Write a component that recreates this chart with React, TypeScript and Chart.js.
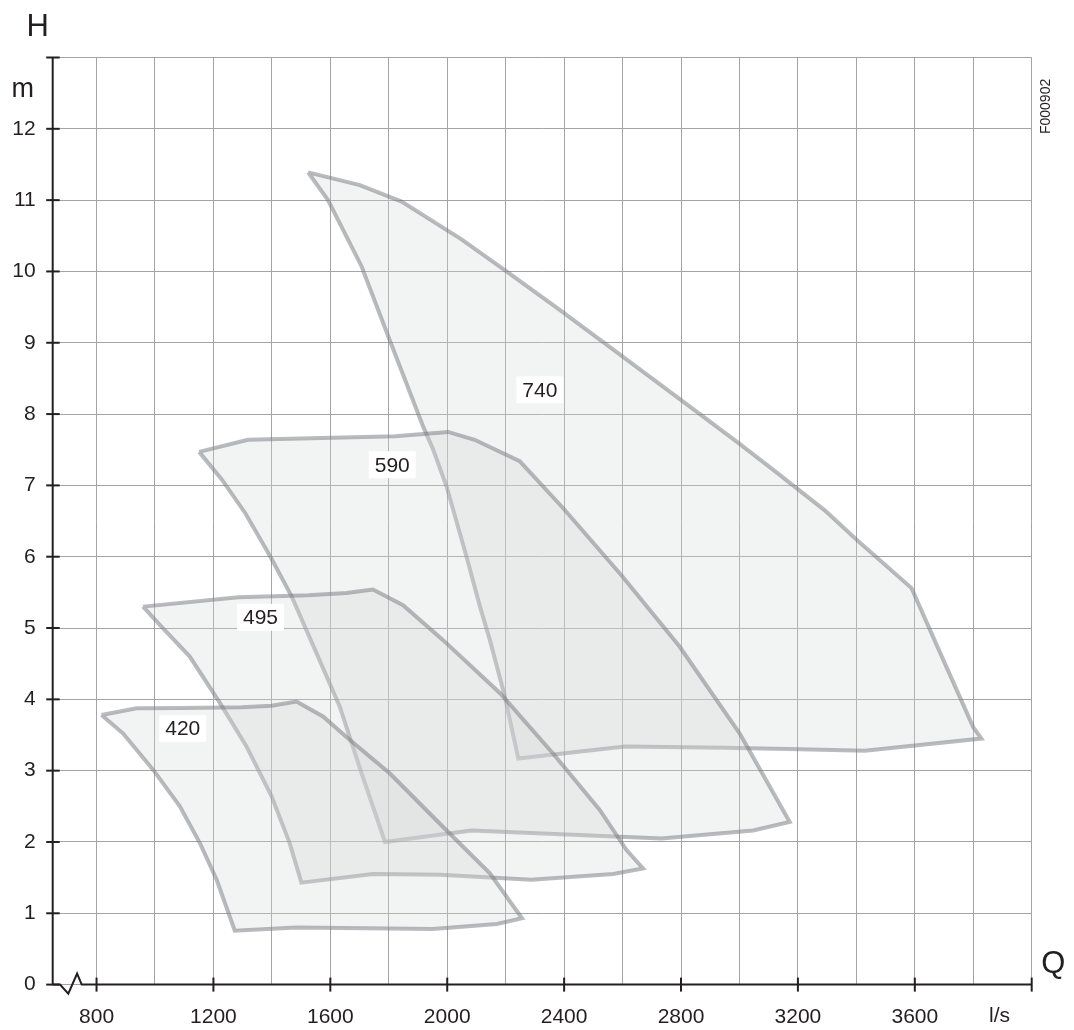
import React, { useEffect, useRef } from 'react';
import { Chart, registerables } from 'chart.js';

Chart.register(...registerables);

// ---- Data (Q in l/s, H in m) ----
const Q_420 = [817, 937, 1091, 1296, 1399, 1484, 1575, 1667, 1804, 1986, 2146, 2256, 2170, 1951, 1484, 1273, 1211, 1154, 1085, 994, 891, 817];
const H_420 = [3.78, 3.875, 3.88, 3.89, 3.91, 3.97, 3.76, 3.43, 2.96, 2.21, 1.56, 0.93, 0.85, 0.78, 0.8, 0.756, 1.47, 1.98, 2.5, 3.01, 3.52, 3.78];

const Q_495 = [959, 1285, 1524, 1655, 1746, 1849, 1986, 2180, 2362, 2522, 2613, 2670, 2568, 2288, 1975, 1747, 1501, 1461, 1399, 1313, 1222, 1119, 1022, 959];
const H_495 = [5.3, 5.43, 5.46, 5.49, 5.54, 5.32, 4.83, 4.09, 3.24, 2.45, 1.89, 1.63, 1.55, 1.47, 1.54, 1.55, 1.43, 1.98, 2.64, 3.34, 3.95, 4.6, 5.02, 5.3];

const Q_590 = [1151, 1318, 1534, 1821, 2003, 2094, 2248, 2397, 2596, 2795, 3001, 3172, 3047, 2733, 2083, 1787, 1707, 1632, 1548, 1468, 1395, 1309, 1229, 1151];
const H_590 = [7.47, 7.64, 7.66, 7.69, 7.75, 7.64, 7.34, 6.68, 5.74, 4.74, 3.52, 2.28, 2.16, 2.05, 2.16, 2.0, 2.96, 3.9, 4.69, 5.44, 6.0, 6.61, 7.08, 7.47];

const Q_740 = [1524, 1701, 1844, 2049, 2197, 2385, 2596, 2796, 2995, 3106, 3292, 3400, 3589, 3674, 3800, 3828, 3429, 3206, 2944, 2608, 2243, 2197, 2146, 2112, 2066, 1998, 1952, 1918, 1798, 1707, 1592, 1524];
const H_740 = [11.39, 11.21, 10.98, 10.45, 10.02, 9.46, 8.82, 8.21, 7.6, 7.25, 6.65, 6.24, 5.56, 4.77, 3.61, 3.45, 3.28, 3.3, 3.32, 3.34, 3.17, 4.04, 4.83, 5.3, 6.0, 6.98, 7.5, 7.82, 9.09, 10.07, 11.0, 11.39];

const CURVE_NAMES = ['420', '495', '590', '740'];
const CURVE_Q = [Q_420, Q_495, Q_590, Q_740];
const CURVE_H = [H_420, H_495, H_590, H_740];
const LABEL_Q = [1095, 1361, 1812, 2317];
const LABEL_H = [3.59, 5.15, 7.29, 8.34];

const X_MIN = 650;
const X_MAX = 4000;
const Y_MIN = 0;
const Y_MAX = 13;
const X_GRID = [800, 1000, 1200, 1400, 1600, 1800, 2000, 2200, 2400, 2600, 2800, 3000, 3200, 3400, 3600, 3800, 4000];
const X_LABELED = [800, 1200, 1600, 2000, 2400, 2800, 3200, 3600];
const X_MARKED = [800, 1200, 1600, 2000, 2400, 2800, 3200, 3600, 4000];
const Y_TICKS = [0, 1, 2, 3, 4, 5, 6, 7, 8, 9, 10, 11, 12, 13];
const Y_LABELED = [0, 1, 2, 3, 4, 5, 6, 7, 8, 9, 10, 11, 12];

const FONT = '"Liberation Sans", Arial, Helvetica, sans-serif';
const INK = '#231f20';

const decorPlugin = {
  id: 'decor',
  afterDatasetsDraw(chart: any) {
    const { ctx, scales } = chart;
    const x = scales.x;
    const y = scales.y;
    ctx.save();
    ctx.font = `21px ${FONT}`;
    ctx.textAlign = 'center';
    ctx.textBaseline = 'middle';
    CURVE_NAMES.forEach((t, i) => {
      const px = x.getPixelForValue(LABEL_Q[i]);
      const py = y.getPixelForValue(LABEL_H[i]);
      const w = ctx.measureText(t).width;
      ctx.fillStyle = '#ffffff';
      ctx.fillRect(px - w / 2 - 6, py - 13.5, w + 12, 27);
      ctx.fillStyle = INK;
      ctx.fillText(t, px, py + 1);
    });
    ctx.restore();
  },
  afterDraw(chart: any) {
    const { ctx, chartArea: a, scales } = chart;
    const x = scales.x;
    const y = scales.y;
    ctx.save();
    ctx.strokeStyle = INK;
    ctx.lineWidth = 2;
    ctx.lineCap = 'butt';
    // y axis
    ctx.beginPath();
    ctx.moveTo(a.left, a.top);
    ctx.lineTo(a.left, a.bottom);
    ctx.stroke();
    Y_TICKS.forEach((v) => {
      const py = y.getPixelForValue(v);
      ctx.beginPath();
      ctx.moveTo(a.left - 6.5, py);
      ctx.lineTo(a.left + 7, py);
      ctx.stroke();
    });
    // x axis with break
    const by = a.bottom;
    ctx.lineJoin = 'miter';
    ctx.beginPath();
    ctx.moveTo(a.left, by);
    ctx.lineTo(a.left + 7.3, by);
    ctx.lineTo(a.left + 15.6, by + 9);
    ctx.lineTo(a.left + 24.4, by - 11);
    ctx.lineTo(a.left + 29, by);
    ctx.lineTo(a.right, by);
    ctx.stroke();
    X_MARKED.forEach((v) => {
      const px = x.getPixelForValue(v);
      ctx.beginPath();
      ctx.moveTo(px, by - 7);
      ctx.lineTo(px, by + 7);
      ctx.stroke();
    });
    // axis titles & units
    ctx.fillStyle = INK;
    ctx.textAlign = 'center';
    ctx.textBaseline = 'middle';
    ctx.font = `31px ${FONT}`;
    ctx.fillText('H', a.left - 15, a.top - 30);
    ctx.fillText('Q', a.right + 21.5, by - 20);
    ctx.font = `27px ${FONT}`;
    ctx.fillText('m', a.left - 30, y.getPixelForValue(12.6) + 4);
    ctx.font = `21px ${FONT}`;
    ctx.fillText('l/s', x.getPixelForValue(3890), by + 32);
    // figure code
    ctx.font = `14px ${FONT}`;
    ctx.translate(a.right + 14.5, y.getPixelForValue(12.3) - 1);
    ctx.rotate(-Math.PI / 2);
    ctx.fillText('F000902', 0, 0);
    ctx.restore();
  },
};

export default function App() {
  const canvasRef = useRef<HTMLCanvasElement | null>(null);

  useEffect(() => {
    if (!canvasRef.current) return;
    const datasets = CURVE_NAMES.map((name, i) => ({
      label: name,
      data: CURVE_Q[i].map((q, k) => ({ x: q, y: CURVE_H[i][k] })),
      showLine: true,
      tension: 0,
      pointRadius: 0,
      pointHoverRadius: 0,
      borderWidth: 4,
      borderColor: 'rgba(118,120,126,0.5)',
      backgroundColor: 'rgba(213,214,216,0.3)',
      borderJoinStyle: 'miter' as const,
      fill: 'shape' as any,
    }));
    const chart = new Chart(canvasRef.current, {
      type: 'scatter',
      data: { datasets },
      plugins: [decorPlugin],
      options: {
        animation: false,
        responsive: true,
        maintainAspectRatio: false,
        layout: { padding: { left: 0, top: 57.5, right: 42.3, bottom: 0 } },
        plugins: {
          legend: { display: false },
          tooltip: { enabled: false },
        },
        scales: {
          x: {
            type: 'linear',
            min: X_MIN,
            max: X_MAX,
            afterBuildTicks: (scale: any) => {
              scale.ticks = X_GRID.map((v) => ({ value: v }));
            },
            afterFit: (scale: any) => {
              scale.height = 45.4;
            },
            border: { display: false },
            grid: { color: '#a4a4a4', lineWidth: 1, drawTicks: false },
            ticks: {
              autoSkip: false,
              maxRotation: 0,
              padding: 20,
              color: INK,
              font: { family: FONT, size: 21 },
              callback: (v: any) => (X_LABELED.includes(Number(v)) ? String(v) : ''),
            },
          },
          y: {
            type: 'linear',
            min: Y_MIN,
            max: Y_MAX,
            afterBuildTicks: (scale: any) => {
              scale.ticks = Y_TICKS.map((v) => ({ value: v }));
            },
            afterFit: (scale: any) => {
              scale.width = 52.7;
            },
            border: { display: false },
            grid: { color: '#a4a4a4', lineWidth: 1, drawTicks: false },
            ticks: {
              autoSkip: false,
              padding: 17,
              color: INK,
              font: { family: FONT, size: 21 },
              callback: (v: any) => (Y_LABELED.includes(Number(v)) ? String(v) : ''),
            },
          },
        },
      },
    });
    return () => chart.destroy();
  }, []);

  return (
    <div style={{ position: 'absolute', left: 0, top: 0, width: 1074, height: 1030, background: '#ffffff' }}>
      <canvas ref={canvasRef} />
    </div>
  );
}
